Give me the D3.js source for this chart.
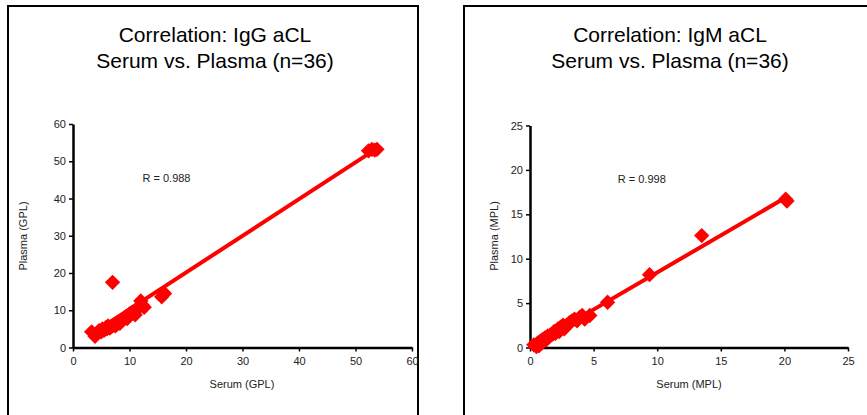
<!DOCTYPE html>
<html>
<head>
<meta charset="utf-8">
<script src="https://cdn.jsdelivr.net/npm/d3@7"></script>
<style>
  body { margin: 0; background: #fff; }
  svg { display: block; font-family: "Liberation Sans", Arial, sans-serif; }
</style>
</head>
<body>
<div id="chart"></div>
<script>
var svgWidth = 867;
var svgHeight = 415;

// IgG aCL, serum vs plasma (GPL)
var iggSerum  = [3.3, 3.9, 4.2, 4.6, 5.0, 5.2, 5.5, 5.8, 6.0, 6.2, 6.5, 6.8,
                 7.0, 7.2, 7.5, 7.8, 8.0, 8.3, 8.6, 9.0, 9.3, 9.6, 10.0, 10.5,
                 11.0, 11.3, 11.7, 12.0, 12.2, 12.6, 15.7, 16.2, 52.3, 52.9, 53.4, 53.8];
var iggPlasma = [4.2, 3.0, 3.8, 4.5, 4.2, 5.0, 4.6, 5.3, 5.0, 5.8, 5.2, 5.6,
                 17.5, 6.0, 5.8, 6.3, 6.8, 6.5, 7.2, 7.6, 8.2, 7.8, 9.0, 9.5,
                 8.8, 10.2, 11.0, 12.5, 11.5, 10.8, 13.6, 14.5, 52.8, 53.2, 53.0, 53.2];

// IgM aCL, serum vs plasma (MPL)
var igmSerum  = [0.3, 0.5, 0.6, 0.7, 0.8, 0.9, 1.0, 1.1, 1.2, 1.3, 1.4, 1.5,
                 1.6, 1.8, 1.9, 2.0, 2.1, 2.2, 2.3, 2.4, 2.6, 2.7, 2.9, 3.1,
                 3.3, 3.5, 3.7, 3.9, 4.1, 4.3, 4.7, 6.1, 9.4, 13.5, 20.1, 20.2];
var igmPlasma = [0.3, 0.1, 0.5, 0.2, 0.7, 0.5, 0.9, 0.8, 1.1, 0.9, 1.3, 1.2,
                 1.4, 1.5, 1.8, 1.6, 1.9, 2.1, 1.8, 2.3, 2.5, 2.1, 2.5, 2.8,
                 3.0, 3.2, 3.0, 3.4, 3.6, 3.2, 3.6, 5.1, 8.2, 12.6, 16.7, 16.5];

// fitted lines: [slope, intercept]
var iggFit = [0.986, 0.4];
var igmFit = [0.835, 0.1];

var iggTicks = [0, 10, 20, 30, 40, 50, 60];
var igmTicks = [0, 5, 10, 15, 20, 25];

var svg = d3.select("#chart")
  .append("svg")
  .attr("width", svgWidth)
  .attr("height", svgHeight);

var panels = [
  {
    box: [8, 6, 410], cx: 215,
    title: ["Correlation: IgG aCL", "Serum vs. Plasma (n=36)"],
    xs: iggSerum, ys: iggPlasma, fit: iggFit, ticks: iggTicks, max: 60,
    xRange: [73, 412], yRange: [347.5, 124],
    xLabel: "Serum (GPL)", yLabel: "Plasma (GPL)",
    r: "R = 0.988", rPos: [12.3, 44.4], xLabelX: 242, yLabelX: 27
  },
  {
    box: [464, 6, 420], cx: 670,
    title: ["Correlation: IgM aCL", "Serum vs. Plasma (n=36)"],
    xs: igmSerum, ys: igmPlasma, fit: igmFit, ticks: igmTicks, max: 25,
    xRange: [530, 848], yRange: [347.5, 125.5],
    xLabel: "Serum (MPL)", yLabel: "Plasma (MPL)",
    r: "R = 0.998", rPos: [6.9, 18.5], xLabelX: 689, yLabelX: 498
  }
];

panels.forEach(function(p) {
  var g = svg.append("g");

  // frame (bottom runs off the page)
  g.append("path")
    .attr("d", `M${p.box[0]},${svgHeight + 5}V${p.box[1]}H${p.box[0] + p.box[2]}V${svgHeight + 5}`)
    .attr("fill", "none")
    .attr("stroke", "#000")
    .attr("stroke-width", 2);

  p.title.forEach(function(t, i) {
    g.append("text")
      .attr("x", p.cx)
      .attr("y", 42 + i * 26)
      .attr("text-anchor", "middle")
      .attr("font-size", "21px")
      .attr("fill", "#000")
      .text(t);
  });

  var x = d3.scaleLinear().domain([0, p.max]).range(p.xRange);
  var y = d3.scaleLinear().domain([0, p.max]).range(p.yRange);

  var xAxis = g.append("g")
    .attr("transform", `translate(0, ${p.yRange[0]})`)
    .call(d3.axisBottom(x).tickValues(p.ticks).tickSize(4).tickSizeOuter(0).tickPadding(6));
  var yAxis = g.append("g")
    .attr("transform", `translate(${p.xRange[0]}, 0)`)
    .call(d3.axisLeft(y).tickValues(p.ticks).tickSize(4).tickSizeOuter(0).tickPadding(3));

  [xAxis, yAxis].forEach(function(a) {
    a.select(".domain").attr("stroke-width", 2.5);
    a.selectAll(".tick line").attr("stroke-width", 1.5);
    a.selectAll(".tick text")
      .attr("font-size", "11px")
      .attr("font-family", "Liberation Sans, Arial, sans-serif")
      .attr("fill", "#222");
  });

  var pts = p.xs.map(function(v, i) { return [v, p.ys[i]]; });

  g.append("g")
    .selectAll("path")
    .data(pts)
    .enter()
    .append("path")
    .attr("d", d3.symbol().type(d3.symbolSquare).size(118))
    .attr("transform", d => `translate(${x(d[0])}, ${y(d[1])}) rotate(45)`)
    .attr("fill", "#ff0000");

  var x0 = d3.min(p.xs), x1 = d3.max(p.xs);
  g.append("line")
    .attr("x1", x(x0))
    .attr("y1", y(p.fit[0] * x0 + p.fit[1]))
    .attr("x2", x(x1))
    .attr("y2", y(p.fit[0] * x1 + p.fit[1]))
    .attr("stroke", "#ff0000")
    .attr("stroke-width", 4);

  g.append("text")
    .attr("x", x(p.rPos[0]))
    .attr("y", y(p.rPos[1]))
    .attr("font-size", "11px")
    .attr("fill", "#222")
    .text(p.r);

  g.append("text")
    .attr("x", p.xLabelX)
    .attr("y", 388)
    .attr("text-anchor", "middle")
    .attr("font-size", "11px")
    .attr("fill", "#222")
    .text(p.xLabel);

  g.append("text")
    .attr("transform", `translate(${p.yLabelX}, 236) rotate(-90)`)
    .attr("text-anchor", "middle")
    .attr("font-size", "11px")
    .attr("fill", "#222")
    .text(p.yLabel);
});
</script>
</body>
</html>
